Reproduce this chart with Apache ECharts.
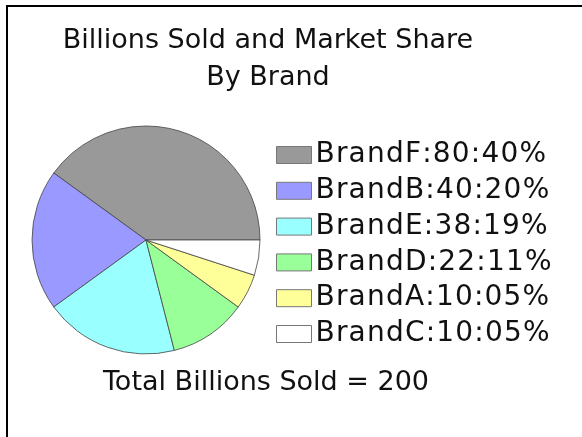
<!DOCTYPE html>
<html>
<head>
<meta charset="utf-8">
<style>
  html, body { margin: 0; padding: 0; background: #fff; }
  #chart { width: 582px; height: 437px; }
</style>
<script src="https://cdn.jsdelivr.net/npm/echarts@6/dist/echarts.min.js"></script>
</head>
<body>
<div id="chart"></div>
<script>
// Billions sold per brand, largest first
const brands = ['BrandF', 'BrandB', 'BrandE', 'BrandD', 'BrandA', 'BrandC'];
const billionsSold = [80, 40, 38, 22, 10, 10];
const sliceColors = ['#999999', '#9999ff', '#99ffff', '#99ff99', '#ffff99', '#ffffff'];
const titleLines = ['Billions Sold and Market Share', 'By Brand'];
const totalLabel = 'Total Billions Sold';

const FONT = '"DejaVu Sans", Verdana, sans-serif';
const total = billionsSold.reduce((a, b) => a + b, 0);
const pad2 = n => (n < 10 ? '0' : '') + n;

// Legend entries read "Brand:value:percent%", set with a touch of tracking
const legendText = {};
brands.forEach((b, i) => {
  const pct = Math.round(billionsSold[i] / total * 100);
  const s = b + ':' + billionsSold[i] + ':' + pad2(pct) + '%';
  legendText[b] = s.split('').map(ch => '{c|' + ch + '}').join('');
});

const chart = echarts.init(document.getElementById('chart'), null, { renderer: 'canvas' });
chart.setOption({
  animation: false,
  backgroundColor: '#ffffff',
  title: {
    text: titleLines.join('\n'),
    left: 268,
    top: 22,
    textAlign: 'center',
    padding: 0,
    textStyle: {
      fontFamily: FONT,
      fontSize: 27,
      fontWeight: 'normal',
      color: '#111',
      lineHeight: 37
    }
  },
  legend: {
    orient: 'vertical',
    left: 276,
    top: 140,
    padding: 0,
    itemWidth: 35,
    itemHeight: 17,
    itemGap: 5.8,
    icon: 'rect',
    selectedMode: false,
    data: brands,
    formatter: name => legendText[name],
    textStyle: {
      fontFamily: FONT,
      fontSize: 28,
      color: '#111',
      lineHeight: 30,
      padding: [0, 0, 0, -1],
      rich: {
        c: {
          fontFamily: FONT,
          fontSize: 28,
          color: '#111',
          lineHeight: 30,
          padding: [0, 1.2, 0, 0]
        }
      }
    },
    itemStyle: { borderColor: '#777', borderWidth: 1 }
  },
  graphic: [
    {
      type: 'text',
      silent: true,
      style: {
        text: totalLabel + ' = ' + total,
        x: 266,
        y: 396,
        textAlign: 'center',
        textVerticalAlign: 'bottom',
        font: '27px ' + FONT,
        fill: '#111'
      }
    },
    {
      type: 'polyline',
      shape: { points: [[7, 437], [7, 6], [582, 6]] },
      style: { stroke: '#000', lineWidth: 2, fill: null },
      silent: true
    }
  ],
  series: [{
    type: 'pie',
    center: [146, 240],
    radius: 114,
    startAngle: 0,
    clockwise: false,
    silent: true,
    label: { show: false },
    labelLine: { show: false },
    itemStyle: { borderColor: '#444', borderWidth: 0.8 },
    emphasis: { disabled: true },
    data: brands.map((b, i) => ({
      name: b,
      value: billionsSold[i],
      itemStyle: { color: sliceColors[i] }
    }))
  }]
});
</script>
</body>
</html>
